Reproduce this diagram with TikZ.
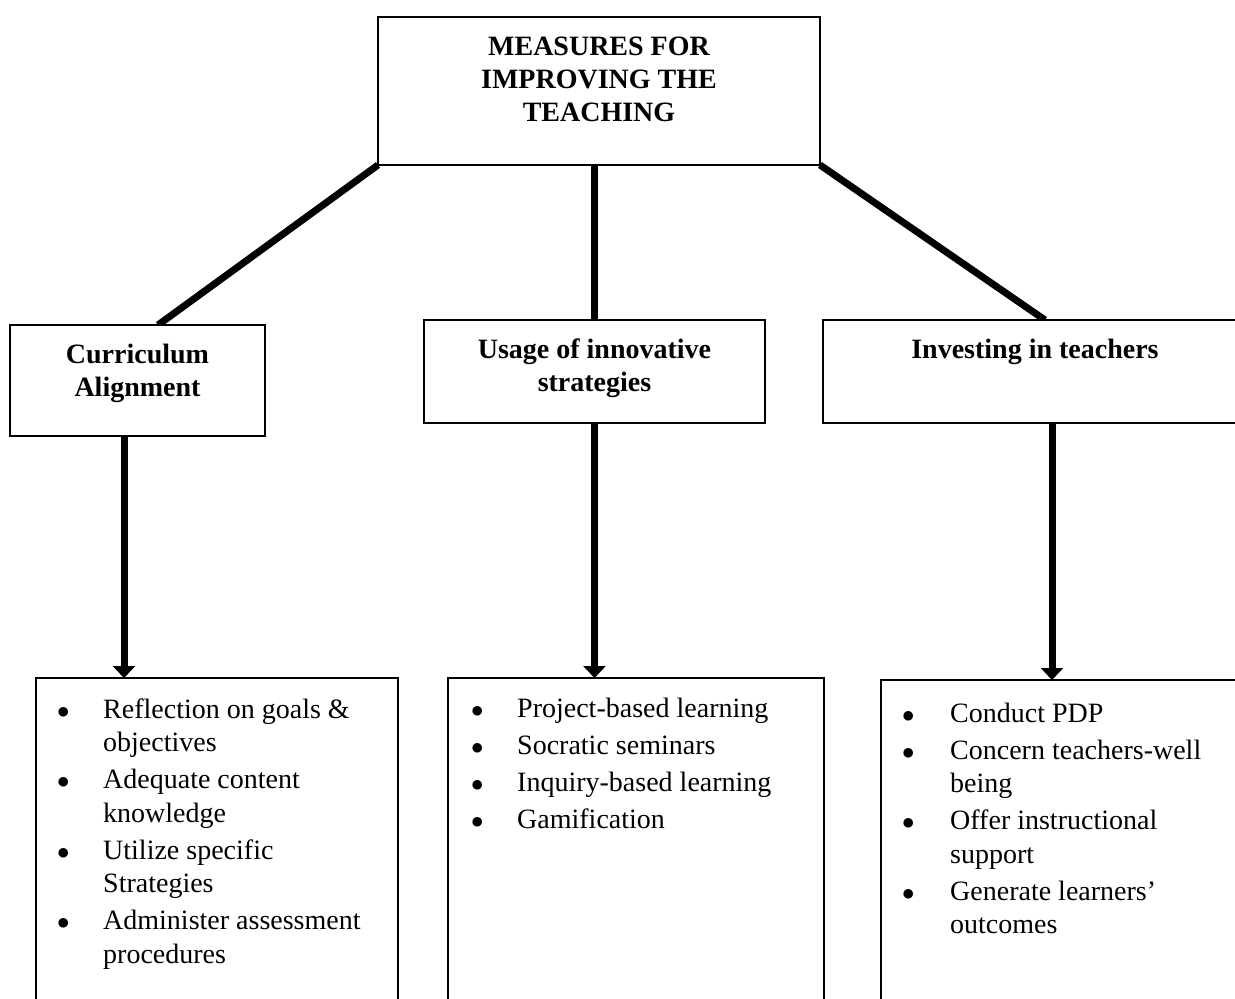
\documentclass[tikz,border=0pt]{standalone}
\usepackage{fontspec}
\setmainfont{Liberation Serif}
\usetikzlibrary{arrows.meta,calc}
\pgfdeclarelayer{bg}
\pgfsetlayers{bg,main}
\newcommand{\hdbox}[3]{\parbox[c][#2][t]{#1}{\centering\fontsize{28}{33}\selectfont\bfseries\rule{0pt}{38pt}#3}}
\newcommand{\bul}{$\bullet$}
\begin{document}
\begin{tikzpicture}[x=1pt,y=-1pt,
  box/.style={draw,line width=1.3pt,inner sep=0pt,outer sep=0pt,anchor=north west,fill=white},
  link/.style={line width=7pt},
  arr/.style={line width=7pt,-{Triangle[width=22pt,length=12pt]}},
  bodytxt/.style={inner sep=0pt,anchor=base west,font=\fontsize{28}{33.5}\selectfont}]
\useasboundingbox (0,0) rectangle (1235,999);
\clip (0,0) rectangle (1235,999);

% boxes
\node[box] (top) at (378,17) {\hdbox{442pt}{148pt}{MEASURES FOR\\IMPROVING THE\\TEACHING}};
\node[box] (ca) at (10,325) {\hdbox{255pt}{111pt}{Curriculum\\Alignment}};
\node[box] (us) at (424,320) {\hdbox{341pt}{103pt}{Usage of innovative\\strategies}};
\node[box] (inv) at (823,320) {\hdbox{424pt}{103pt}{Investing in teachers}};

\node[box,minimum width=362pt,minimum height=400pt] (bl) at (36,678) {};
\node[box,minimum width=376pt,minimum height=400pt] (bm) at (448,678) {};
\node[box,minimum width=400pt,minimum height=400pt] (br) at (881,680) {};

% list texts
\node[bodytxt] (bltxt) at (57,718) {\begin{tabular}[t]{@{}p{46pt}@{}l@{}}
\bul & Reflection on goals \&\\
  & objectives\\[3.5pt]
\bul & Adequate content\\
  & knowledge\\[3.5pt]
\bul & Utilize specific\\
  & Strategies\\[3.5pt]
\bul & Administer assessment\\
  & procedures
\end{tabular}};
\node[bodytxt] (bmtxt) at (471,717) {\begin{tabular}[t]{@{}p{46pt}@{}l@{}}
\bul & Project-based learning\\[3.5pt]
\bul & Socratic seminars\\[3.5pt]
\bul & Inquiry-based learning\\[3.5pt]
\bul & Gamification
\end{tabular}};
\node[bodytxt] (brtxt) at (902,722) {\begin{tabular}[t]{@{}p{48pt}@{}l@{}}
\bul & Conduct PDP\\[3.5pt]
\bul & Concern teachers-well\\
  & being\\[3.5pt]
\bul & Offer instructional\\
  & support\\[3.5pt]
\bul & Generate learners’\\
  & outcomes
\end{tabular}};

% connectors
\begin{pgfonlayer}{bg}
\fill[white] (0,0) rectangle (1235,999);
\draw[link] (top.south west) -- ($(ca.north west)+(148,0)$);
\draw[link] (us.north) -- (us.north |- top.south);
\draw[link] (top.south east) -- ($(inv.north west)+(222,0)$);
\end{pgfonlayer}
\coordinate (a1) at ($(ca.south west)+(114,0)$);
\coordinate (a3) at ($(inv.south west)+(229,0)$);
\draw[arr] (a1) -- (a1 |- bl.north);
\draw[arr] (us.south) -- (us.south |- bm.north);
\draw[arr] (a3) -- (a3 |- br.north);
\end{tikzpicture}
\end{document}
